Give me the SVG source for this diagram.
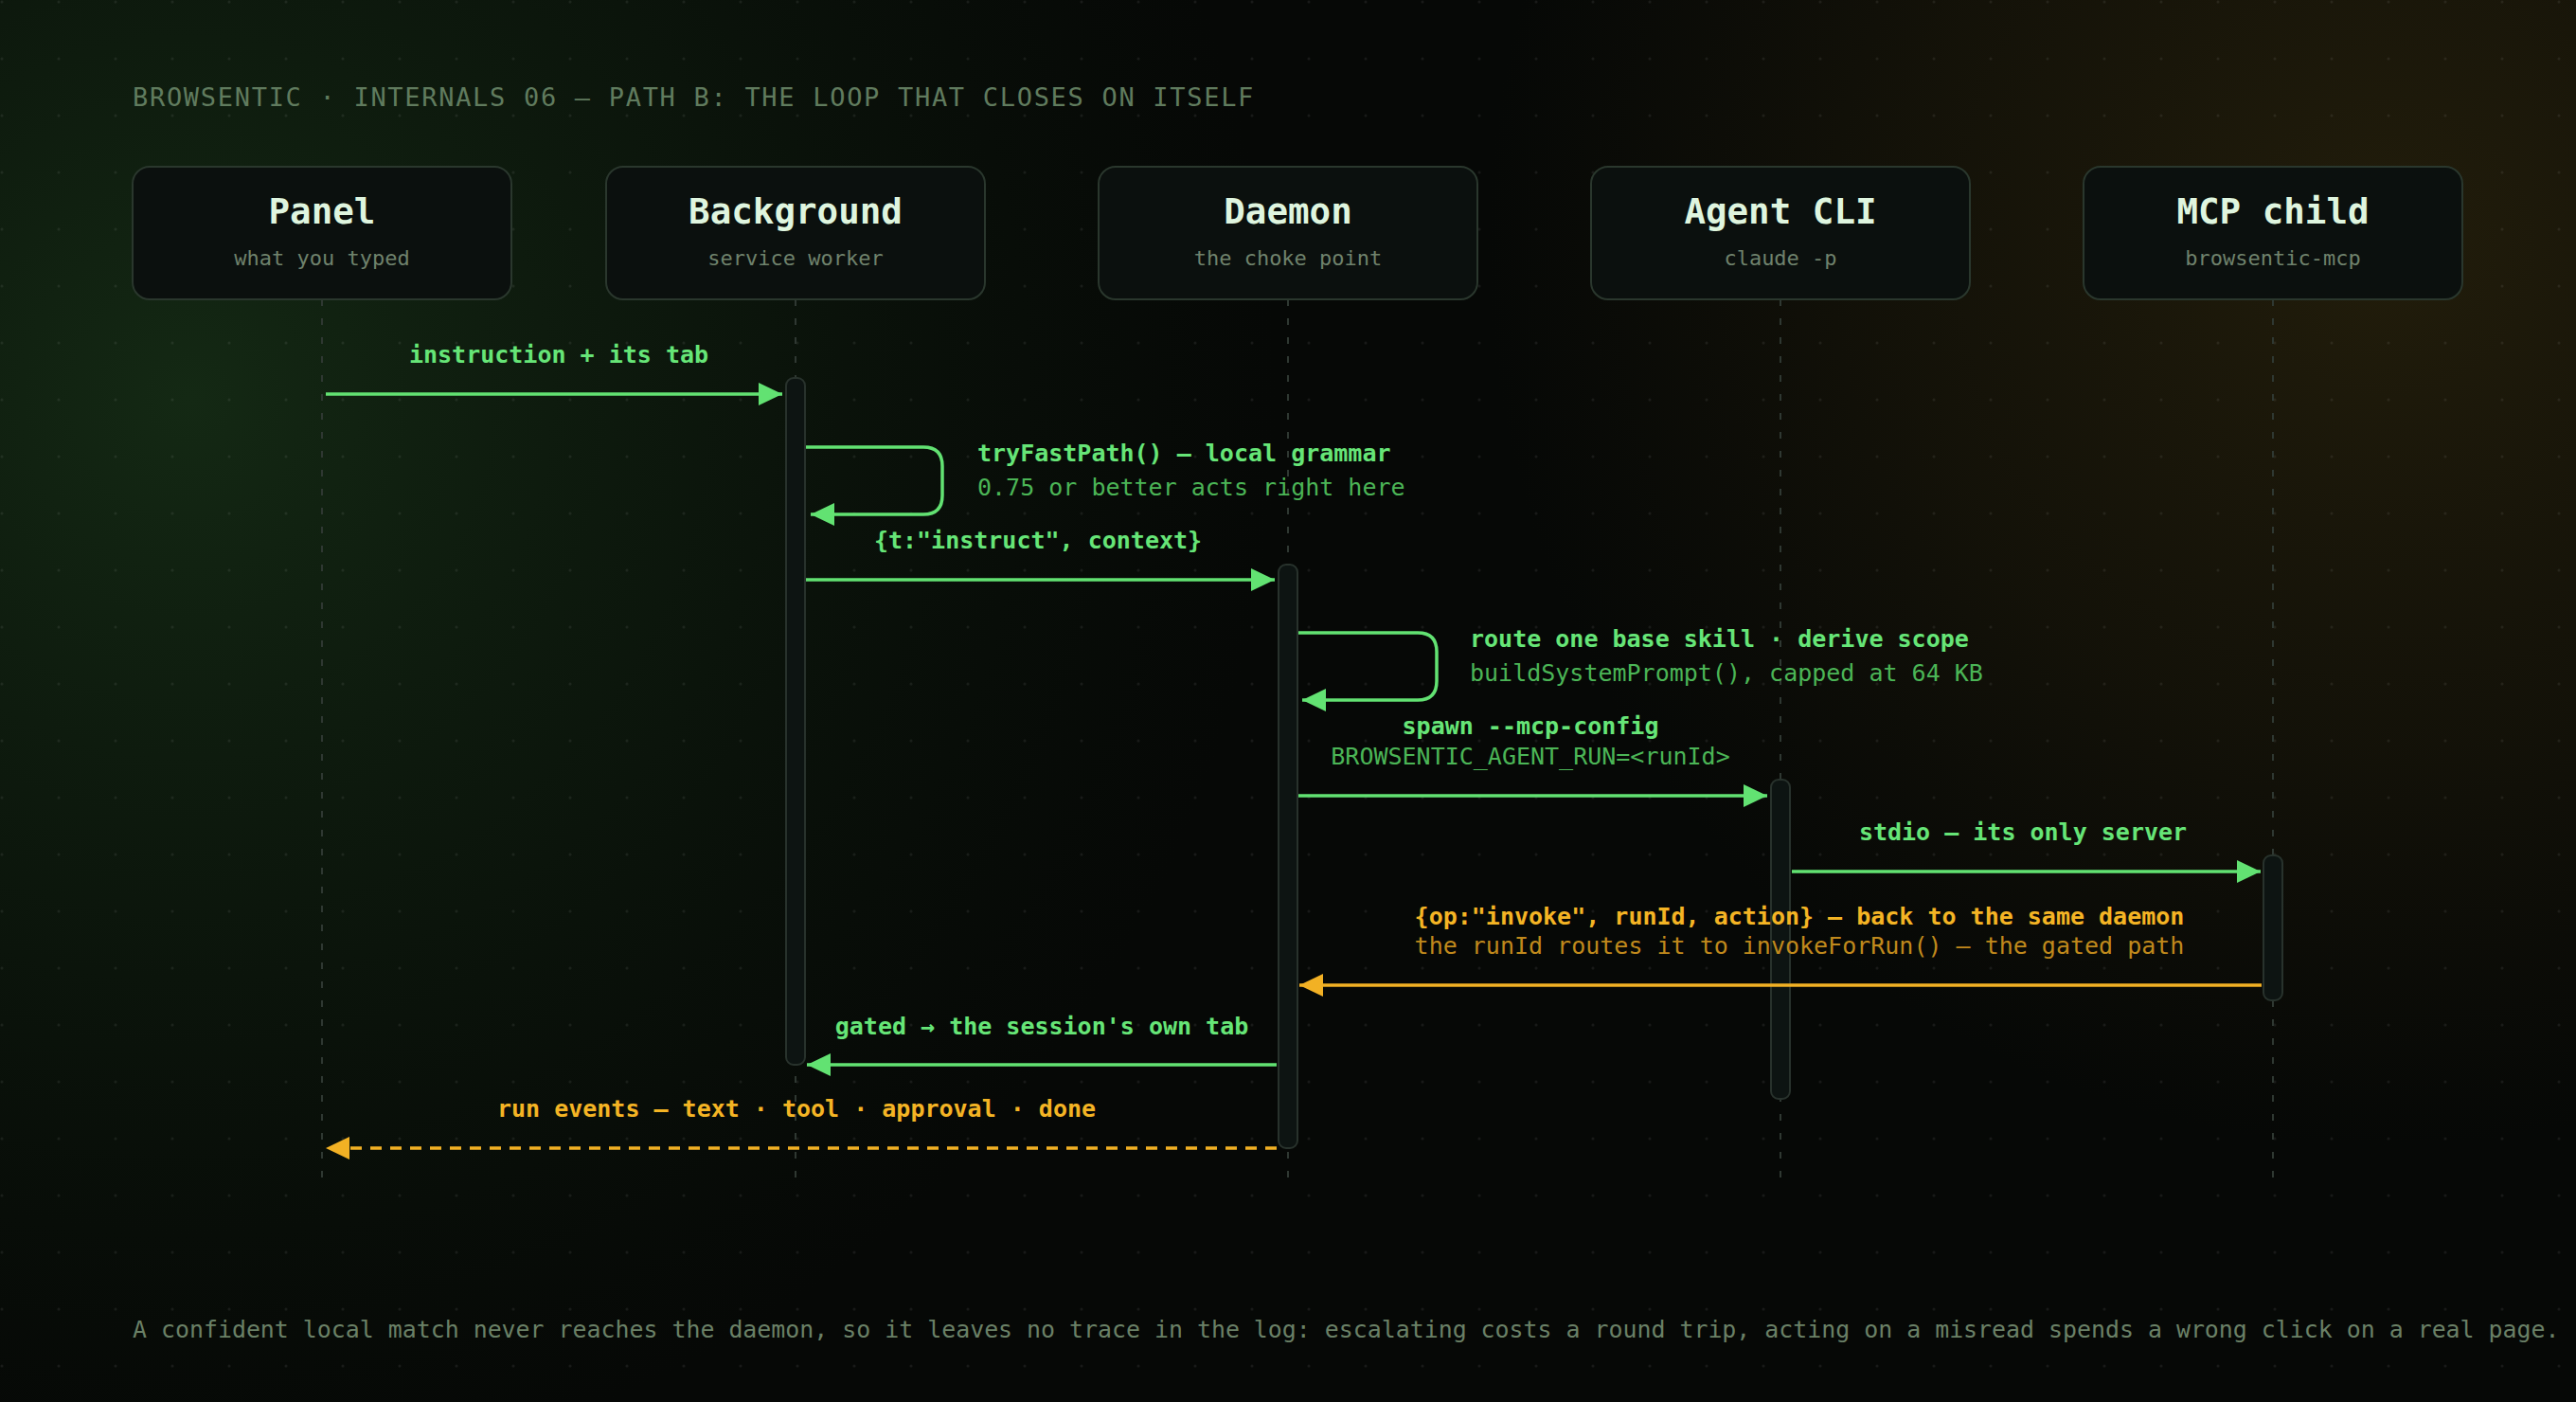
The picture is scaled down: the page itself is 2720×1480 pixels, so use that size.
<svg xmlns="http://www.w3.org/2000/svg" width="2720" height="1480" viewBox="0 0 2720 1480">
<defs>
<radialGradient id="gGreen" gradientUnits="userSpaceOnUse" cx="200" cy="420" r="1150">
<stop offset="0" stop-color="#142914" stop-opacity="1"/>
<stop offset="0.5" stop-color="#102010" stop-opacity="0.55"/>
<stop offset="1" stop-color="#0c180c" stop-opacity="0"/>
</radialGradient>
<radialGradient id="gAmber" gradientUnits="userSpaceOnUse" cx="2520" cy="260" r="950">
<stop offset="0" stop-color="#221d0b" stop-opacity="1"/>
<stop offset="0.55" stop-color="#1c180a" stop-opacity="0.6"/>
<stop offset="1" stop-color="#1a160a" stop-opacity="0"/>
</radialGradient>
<pattern id="dots" width="60" height="60" patternUnits="userSpaceOnUse">
<circle cx="2" cy="2" r="1.5" fill="#ffffff" fill-opacity="0.07"/>
</pattern>
<marker id="ahG" markerUnits="userSpaceOnUse" markerWidth="26" markerHeight="26" viewBox="0 0 26 26" refX="25" refY="12" orient="auto">
<path d="M0,0 L25,12 L0,24 z" fill="#62e272"/>
</marker>
<marker id="ahA" markerUnits="userSpaceOnUse" markerWidth="26" markerHeight="26" viewBox="0 0 26 26" refX="25" refY="12" orient="auto">
<path d="M0,0 L25,12 L0,24 z" fill="#f2b124"/>
</marker>
<style>
text{font-family:"DejaVu Sans Mono","Liberation Mono",monospace;}
.title{font-size:27px;letter-spacing:1.7px;fill:#607b5e;}
.foot{font-size:24.9px;fill:#6a8066;}
.box{fill:#0b100e;stroke:#2a372d;stroke-width:2;}
.nt{font-size:37.5px;font-weight:bold;fill:#dff5df;text-anchor:middle;}
.ns{font-size:22px;fill:#6f826c;text-anchor:middle;}
.life{stroke:#2f3832;stroke-width:2;stroke-dasharray:7 13;fill:none;}
.act{fill:#0d1412;stroke:#28322c;stroke-width:2;}
.g{stroke:#62e272;stroke-width:3.5;fill:none;marker-end:url(#ahG);}
.a{stroke:#f2b124;stroke-width:3.5;fill:none;marker-end:url(#ahA);}
.dash{stroke-dasharray:12 9;}
.lg{font-size:25px;font-weight:bold;fill:#66e577;}
.lg2{font-size:25px;fill:#4bb556;}
.la{font-size:25px;font-weight:bold;fill:#f4b424;}
.la2{font-size:25px;fill:#c0891c;}
.mid{text-anchor:middle;}
</style>
</defs>
<rect width="2720" height="1480" fill="#060806"/>
<rect width="2720" height="1480" fill="url(#gGreen)"/>
<rect width="2720" height="1480" fill="url(#gAmber)"/>
<rect width="2720" height="1480" fill="url(#dots)"/>

<text class="title" x="140" y="112">BROWSENTIC · INTERNALS 06 — PATH B: THE LOOP THAT CLOSES ON ITSELF</text>

<g id="node-panel">
<line class="life" x1="340" y1="316" x2="340" y2="1244"/>
<rect class="box" x="140" y="176" width="400" height="140" rx="18"/>
<text class="nt" x="340" y="236">Panel</text>
<text class="ns" x="340" y="280">what you typed</text>
</g>
<g id="node-background">
<line class="life" x1="840" y1="316" x2="840" y2="1244"/>
<rect class="box" x="640" y="176" width="400" height="140" rx="18"/>
<text class="nt" x="840" y="236">Background</text>
<text class="ns" x="840" y="280">service worker</text>
<rect class="act" x="830" y="399" width="20" height="725" rx="8"/>
</g>
<g id="node-daemon">
<line class="life" x1="1360" y1="316" x2="1360" y2="1244"/>
<rect class="box" x="1160" y="176" width="400" height="140" rx="18"/>
<text class="nt" x="1360" y="236">Daemon</text>
<text class="ns" x="1360" y="280">the choke point</text>
<rect class="act" x="1350" y="596" width="20" height="616" rx="8"/>
</g>
<g id="node-agent">
<line class="life" x1="1880" y1="316" x2="1880" y2="1244"/>
<rect class="box" x="1680" y="176" width="400" height="140" rx="18"/>
<text class="nt" x="1880" y="236">Agent CLI</text>
<text class="ns" x="1880" y="280">claude -p</text>
<rect class="act" x="1870" y="823" width="20" height="337" rx="8"/>
</g>
<g id="node-mcp">
<line class="life" x1="2400" y1="316" x2="2400" y2="1244"/>
<rect class="box" x="2200" y="176" width="400" height="140" rx="18"/>
<text class="nt" x="2400" y="236">MCP child</text>
<text class="ns" x="2400" y="280">browsentic-mcp</text>
<rect class="act" x="2390" y="903" width="20" height="153" rx="8"/>
</g>

<g id="connectors">
<path class="g" d="M344 416 H826"/>
<text class="lg mid" x="590" y="383">instruction + its tab</text>

<path class="g" d="M851 472 H975 Q995 472 995 492 V523 Q995 543 975 543 H856"/>
<text class="lg" x="1032" y="487">tryFastPath() — local grammar</text>
<text class="lg2" x="1032" y="523">0.75 or better acts right here</text>

<path class="g" d="M851 612 H1346"/>
<text class="lg mid" x="1096" y="579">{t:"instruct", context}</text>

<path class="g" d="M1371 668 H1497 Q1517 668 1517 688 V719 Q1517 739 1497 739 H1375"/>
<text class="lg" x="1552" y="683">route one base skill · derive scope</text>
<text class="lg2" x="1552" y="719">buildSystemPrompt(), capped at 64 KB</text>

<path class="g" d="M1371 840 H1866"/>
<text class="lg mid" x="1616" y="775">spawn --mcp-config</text>
<text class="lg2 mid" x="1616" y="807">BROWSENTIC_AGENT_RUN=&lt;runId&gt;</text>

<path class="g" d="M1892 920 H2387"/>
<text class="lg mid" x="2136" y="887">stdio — its only server</text>

<path class="a" d="M2388 1040 H1372"/>
<text class="la mid" x="1900" y="976">{op:"invoke", runId, action} — back to the same daemon</text>
<text class="la2 mid" x="1900" y="1007">the runId routes it to invokeForRun() — the gated path</text>

<path class="g" d="M1348 1124 H852"/>
<text class="lg mid" x="1100" y="1092">gated → the session's own tab</text>

<path class="a dash" d="M1348 1212 H344"/>
<text class="la mid" x="841" y="1179">run events — text · tool · approval · done</text>
</g>

<text class="foot" x="140" y="1412">A confident local match never reaches the daemon, so it leaves no trace in the log: escalating costs a round trip, acting on a misread spends a wrong click on a real page.</text>
</svg>
